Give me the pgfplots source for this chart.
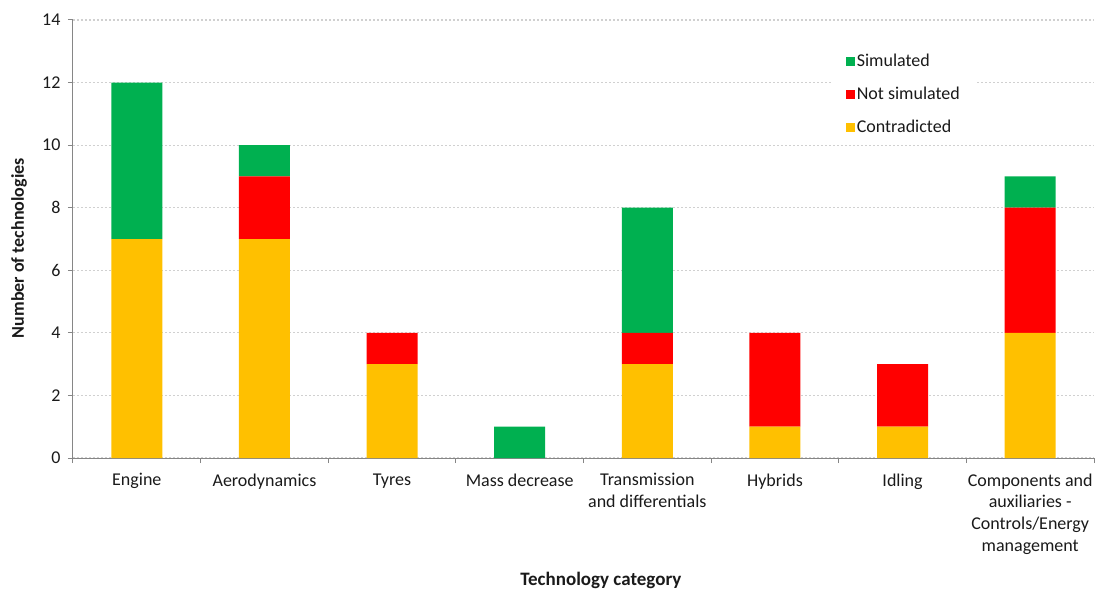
\documentclass[border=0pt]{standalone}
\usepackage{fontspec}
\setmainfont{Carlito}
\usepackage{pgfplots}
\pgfplotsset{compat=1.18}
\definecolor{cgreen}{HTML}{00B050}
\definecolor{cred}{HTML}{FF0000}
\definecolor{cyellow}{HTML}{FFC000}
\definecolor{caxis}{HTML}{868686}
\definecolor{cgrid}{HTML}{D0D0D0}
\definecolor{ctext}{HTML}{1A1A1A}
\begin{document}
\begin{tikzpicture}
\begin{axis}[
  at={(73pt,132pt)}, anchor=south west,
  scale only axis, width=1021pt, height=438pt,
  ybar stacked, bar width=51pt,
  xmin=-0.5, xmax=7.5, ymin=0, ymax=14,
  ytick={0,2,...,14},
  xtick={-0.5,0.5,...,7.5},
  x tick label as interval,
  xticklabels={Engine,Aerodynamics,Tyres,Mass decrease,{Transmission\\and differentials},Hybrids,Idling,{Components and\\auxiliaries -\\Controls/Energy\\management}},
  xticklabel style={align=center, anchor=north, yshift=-7pt, font=\fontsize{18}{21.7}\selectfont, text=ctext},
  yticklabel style={font=\fontsize{18}{21.7}\selectfont, text=ctext, xshift=-4pt},
  /pgf/number format/assume math mode=true,
  axis x line*=bottom, axis y line*=left,
  axis line style={draw=caxis, line width=1pt},
  tick style={draw=caxis, line width=1pt},
  tick align=outside, major tick length=5pt,
  ymajorgrids,
  major grid style={draw=cgrid, line width=1.2pt, dash pattern=on 2pt off 2pt},
  xlabel={\textbf{Technology category}},
  ylabel={\textbf{Number of technologies}},
  xlabel style={at={(axis description cs:0.517,-0.2900)}, anchor=base, font=\fontsize{19}{22}\selectfont, text=ctext},
  ylabel style={at={(axis description cs:-0.0529,0.479)}, anchor=center, font=\fontsize{18}{22}\selectfont, text=ctext},
  legend style={at={(axis description cs:0.744,0.936)}, anchor=north west, draw=none, fill=white,
    font=\fontsize{18}{21.7}\selectfont, text=ctext, inner xsep=13pt, inner ysep=4pt,
    row sep=15pt, nodes={inner sep=2pt}},
  legend cell align=left,
  reverse legend,
  legend image code/.code={\fill[#1] (0pt,-4.5pt) rectangle (9pt,4.5pt);},
]
\addplot[fill=cyellow, draw=none] coordinates {(0,7) (1,7) (2,3) (3,0) (4,3) (5,1) (6,1) (7,4)};
\addplot[fill=cred, draw=none] coordinates {(0,0) (1,2) (2,1) (3,0) (4,1) (5,3) (6,2) (7,4)};
\addplot[fill=cgreen, draw=none] coordinates {(0,5) (1,1) (2,0) (3,1) (4,4) (5,0) (6,0) (7,1)};
\legend{Contradicted,Not simulated,Simulated}
\end{axis}
\pgfresetboundingbox
\path[use as bounding box] (0,0) rectangle (1096pt,590pt);
\end{tikzpicture}
\end{document}
